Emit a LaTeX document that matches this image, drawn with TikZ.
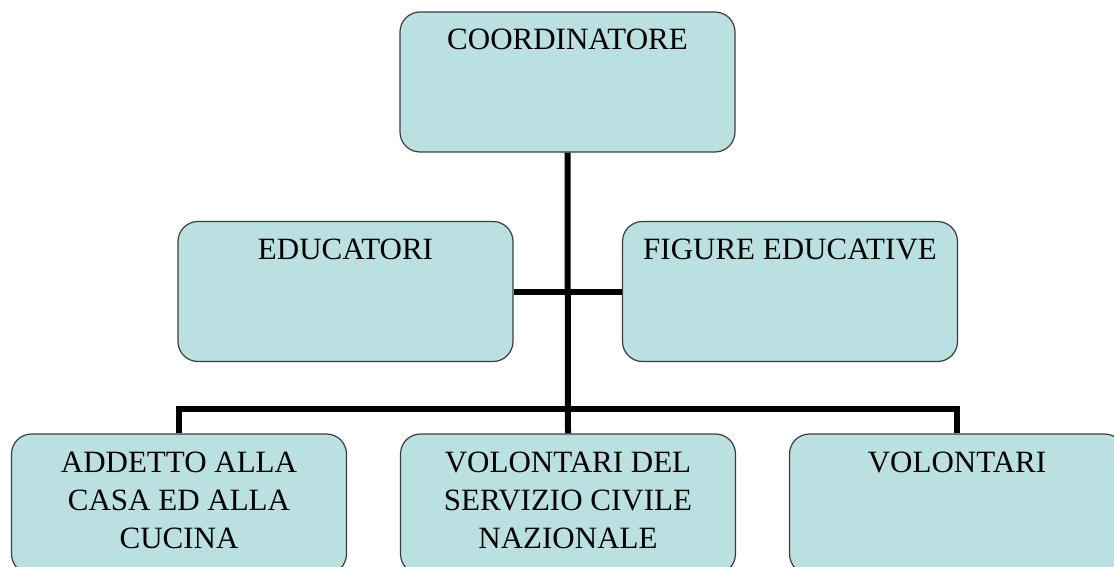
\documentclass[tikz,border=0pt]{standalone}
\usepackage{fontspec}
\setmainfont{Liberation Serif}
\usetikzlibrary{positioning}
\definecolor{boxfill}{RGB}{186,224,226}
\definecolor{boxline}{RGB}{60,60,60}
\begin{document}
\begin{tikzpicture}
    [x=1pt, y=-1pt,
    every node/.style = {shape=rectangle, rounded corners=20pt,
        draw=boxline, line width=1.2pt, fill=boxfill, align=center,
        inner sep=0pt, minimum width=335pt,
        text height=38pt, text depth=102pt,
        font=\fontsize{31}{38}\selectfont},
    threelines/.style = {text height=114pt, text depth=26pt},
    link/.style = {line width=6pt}]
    \useasboundingbox (0,0) rectangle (1114,567);

    \node (coord) at (567.5,82) {COORDINATORE};
    \node (edu) at (345.5,291.5) {EDUCATORI};
    \node (fig) at (790,291.5) {FIGURE EDUCATIVE};
    \node[threelines] (addetto) at (179,504) {ADDETTO ALLA\\ CASA ED ALLA\\ CUCINA};
    \node[threelines] (scn) at (568,504) {VOLONTARI DEL\\ SERVIZIO CIVILE\\ NAZIONALE};
    \node (vol) at (957,504) {VOLONTARI};
    \coordinate (bus) at (568,409);

    \draw[link] (coord.south) -- (scn.north);
    \draw[link] (edu.east) -- (fig.west);
    \draw[link] (addetto.north) |- (bus) -| (vol.north);
\end{tikzpicture}
\end{document}
